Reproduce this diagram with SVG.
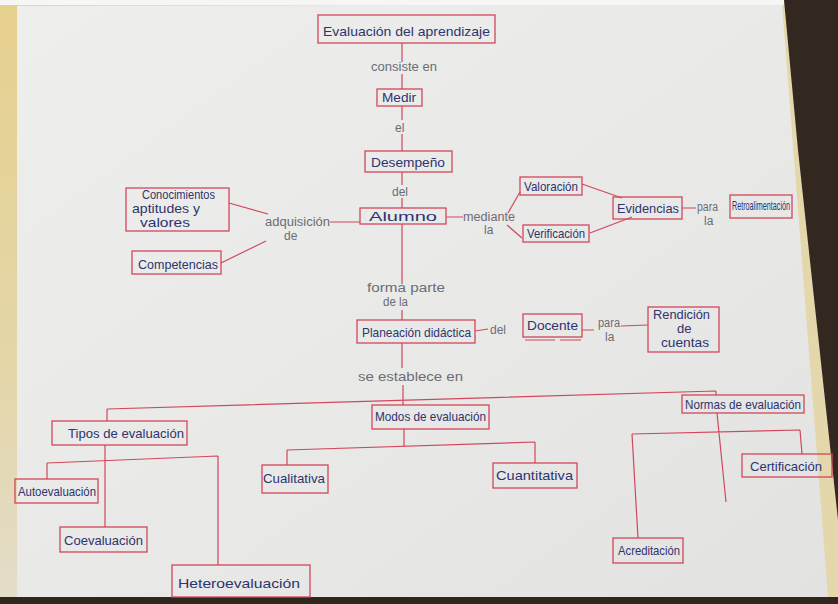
<svg xmlns="http://www.w3.org/2000/svg" width="838" height="604" viewBox="0 0 838 604">
<defs>
<linearGradient id="yel" x1="0" y1="0" x2="0" y2="1">
<stop offset="0" stop-color="#e6d08e"/>
<stop offset="0.6" stop-color="#e4d6a8"/>
<stop offset="1" stop-color="#e3ddca"/>
</linearGradient>
<linearGradient id="paper" x1="0" y1="0" x2="1" y2="1">
<stop offset="0" stop-color="#eeeeec"/>
<stop offset="0.6" stop-color="#e8e8e6"/>
<stop offset="1" stop-color="#e2e2e0"/>
</linearGradient>
<style>
.box{fill:none;stroke:#d2475c;stroke-width:1.3}
.ln{fill:none;stroke:#d2475c;stroke-width:1.2}
.n{font-family:"Liberation Sans",Arial,sans-serif;fill:#2e3470;font-size:13px}
.lk{font-family:"Liberation Sans",Arial,sans-serif;fill:#6c6c74;font-size:12px}
</style>
</defs>
<rect x="0" y="0" width="838" height="604" fill="#33281f"/>
<polygon points="0,0 784,0 798,150 838,520 838,597 0,597" fill="#e5d7ac"/>
<rect x="0" y="0" width="18" height="604" fill="url(#yel)"/>
<polygon points="17,6 782,4 828,597 17,597" fill="url(#paper)"/>
<rect x="0" y="0" width="784" height="5" fill="#f6f6f4"/>
<rect x="0" y="597" width="838" height="7" fill="#2f261e"/>

<g id="connectors">
<path class="ln" d="M402,43 V62 M402,74 V89 M402,106 V120 M402,134 V151 M402,172 V185 M402,198 V208 M402,224 V284 M402,310 V320 M402,343 V368 M403,385 V400"/>
<path class="ln" d="M107,409 L716,391 M107,409 V421 M403,400 V405 M716,391 V395"/>
<path class="ln" d="M105,445 V527 M47,463 L218,456 M47,463 V479 M218,456 V565"/>
<path class="ln" d="M404,429 V446 M287,450 L535,442 M287,450 V465 M535,442 V463"/>
<path class="ln" d="M717,413 L726,502 M632,434 L800,430 M632,434 L638,538 M800,430 L802,454"/>
<path class="ln" d="M330,222 H360 M229,203 L268,214 M221,263 L266,241"/>
<path class="ln" d="M446,217 H463 M508,213 L520,192 M507,225 L522,238 M582,184 L622,198 M590,233 L632,217 M682,208 H696"/>
<path class="ln" d="M475,331 L488,329 M582,330 H594 M621,326 L648,325 M525,340 H555 M560,340 H581"/>
</g>

<g id="n-evaluacion"><rect class="box" x="318" y="15" width="177" height="28"/><text class="n" x="323" y="36" font-size="15" textLength="167" lengthAdjust="spacingAndGlyphs">Evaluación del aprendizaje</text></g>
<text class="lk" x="371" y="71" textLength="66" lengthAdjust="spacingAndGlyphs">consiste en</text>
<g id="n-medir"><rect class="box" x="377" y="89" width="45" height="17"/><text class="n" x="382" y="102" font-size="12" textLength="34" lengthAdjust="spacingAndGlyphs">Medir</text></g>
<text class="lk" x="395" y="132" font-size="14">el</text>
<g id="n-desempeno"><rect class="box" x="365" y="151" width="87" height="21"/><text class="n" x="371" y="167" font-size="14" textLength="74" lengthAdjust="spacingAndGlyphs">Desempeño</text></g>
<text class="lk" x="392" y="196">del</text>
<g id="n-alumno"><rect class="box" x="360" y="208" width="86" height="16"/><text class="n" x="369" y="221" font-size="13" textLength="68" lengthAdjust="spacingAndGlyphs">Alumno</text></g>

<text class="lk" x="265" y="226" textLength="65" lengthAdjust="spacingAndGlyphs">adquisición</text>
<text class="lk" x="284" y="240">de</text>
<g id="n-conocimientos"><rect class="box" x="126" y="188" width="103" height="43"/>
<text class="n" x="142" y="199" font-size="10" textLength="73" lengthAdjust="spacingAndGlyphs">Conocimientos</text>
<text class="n" x="132" y="213" font-size="10" textLength="68" lengthAdjust="spacingAndGlyphs">aptitudes y</text>
<text class="n" x="140" y="227" font-size="10" textLength="50" lengthAdjust="spacingAndGlyphs">valores</text></g>
<g id="n-competencias"><rect class="box" x="132" y="251" width="89" height="23"/><text class="n" x="138" y="269" font-size="13" textLength="80" lengthAdjust="spacingAndGlyphs">Competencias</text></g>

<text class="lk" x="463" y="221" textLength="52" lengthAdjust="spacingAndGlyphs">mediante</text>
<text class="lk" x="484" y="234">la</text>
<g id="n-valoracion"><rect class="box" x="520" y="177" width="62" height="18"/><text class="n" x="524" y="191" font-size="11" textLength="54" lengthAdjust="spacingAndGlyphs">Valoración</text></g>
<g id="n-verificacion"><rect class="box" x="523" y="225" width="66" height="17"/><text class="n" x="527" y="238" font-size="11" textLength="58" lengthAdjust="spacingAndGlyphs">Verificación</text></g>
<g id="n-evidencias"><rect class="box" x="613" y="197" width="69" height="22"/><text class="n" x="617" y="213" font-size="13" textLength="62" lengthAdjust="spacingAndGlyphs">Evidencias</text></g>
<text class="lk" x="697" y="211" font-size="10" textLength="21" lengthAdjust="spacingAndGlyphs">para</text>
<text class="lk" x="704" y="225" font-size="10">la</text>
<g id="n-retro"><rect class="box" x="730" y="195" width="62" height="23"/><text class="n" x="732" y="210" font-size="9" textLength="58" lengthAdjust="spacingAndGlyphs">Retroalimentación</text></g>

<text class="lk" x="367" y="292" font-size="11" textLength="78" lengthAdjust="spacingAndGlyphs">forma parte</text>
<text class="lk" x="383" y="306" font-size="11" textLength="25" lengthAdjust="spacingAndGlyphs">de la</text>
<g id="n-planeacion"><rect class="box" x="357" y="320" width="118" height="23"/><text class="n" x="362" y="337" font-size="12" textLength="109" lengthAdjust="spacingAndGlyphs">Planeación didáctica</text></g>
<text class="lk" x="490" y="334">del</text>
<g id="n-docente"><rect class="box" x="523" y="314" width="59" height="23"/><text class="n" x="527" y="330" font-size="12" textLength="51" lengthAdjust="spacingAndGlyphs">Docente</text></g>
<text class="lk" x="598" y="327" font-size="11" textLength="22" lengthAdjust="spacingAndGlyphs">para</text>
<text class="lk" x="605" y="341" font-size="11">la</text>
<g id="n-rendicion"><rect class="box" x="648" y="307" width="71" height="45"/>
<text class="n" x="653" y="319" font-size="10.5" textLength="57" lengthAdjust="spacingAndGlyphs">Rendición</text>
<text class="n" x="677" y="333" font-size="10.5">de</text>
<text class="n" x="661" y="347" font-size="11" textLength="48" lengthAdjust="spacingAndGlyphs">cuentas</text></g>
<text class="lk" x="358" y="381" textLength="105" lengthAdjust="spacingAndGlyphs">se establece en</text>

<g id="n-tipos"><rect class="box" x="52" y="421" width="135" height="24"/><text class="n" x="68" y="438" font-size="13" textLength="116" lengthAdjust="spacingAndGlyphs">Tipos de evaluación</text></g>
<g id="n-modos"><rect class="box" x="372" y="405" width="117" height="24"/><text class="n" x="375" y="421" font-size="11" textLength="111" lengthAdjust="spacingAndGlyphs">Modos de evaluación</text></g>
<g id="n-normas"><rect class="box" x="682" y="395" width="122" height="18"/><text class="n" x="685" y="409" font-size="11" textLength="116" lengthAdjust="spacingAndGlyphs">Normas de evaluación</text></g>
<g id="n-auto"><rect class="box" x="15" y="479" width="83" height="24"/><text class="n" x="18" y="496" font-size="11" textLength="78" lengthAdjust="spacingAndGlyphs">Autoevaluación</text></g>
<g id="n-coe"><rect class="box" x="60" y="527" width="87" height="25"/><text class="n" x="64" y="545" font-size="12" textLength="79" lengthAdjust="spacingAndGlyphs">Coevaluación</text></g>
<g id="n-hetero"><rect class="box" x="172" y="565" width="138" height="32"/><text class="n" x="178" y="588" font-size="15" textLength="122" lengthAdjust="spacingAndGlyphs">Heteroevaluación</text></g>
<g id="n-cualitativa"><rect class="box" x="262" y="465" width="66" height="28"/><text class="n" x="263" y="483" font-size="13" textLength="62" lengthAdjust="spacingAndGlyphs">Cualitativa</text></g>
<g id="n-cuantitativa"><rect class="box" x="493" y="463" width="84" height="25"/><text class="n" x="496" y="480" font-size="13" textLength="77" lengthAdjust="spacingAndGlyphs">Cuantitativa</text></g>
<g id="n-certificacion"><rect class="box" x="742" y="454" width="90" height="23"/><text class="n" x="750" y="471" font-size="13" textLength="72" lengthAdjust="spacingAndGlyphs">Certificación</text></g>
<g id="n-acreditacion"><rect class="box" x="613" y="538" width="70" height="25"/><text class="n" x="618" y="555" font-size="11" textLength="62" lengthAdjust="spacingAndGlyphs">Acreditación</text></g>
</svg>
